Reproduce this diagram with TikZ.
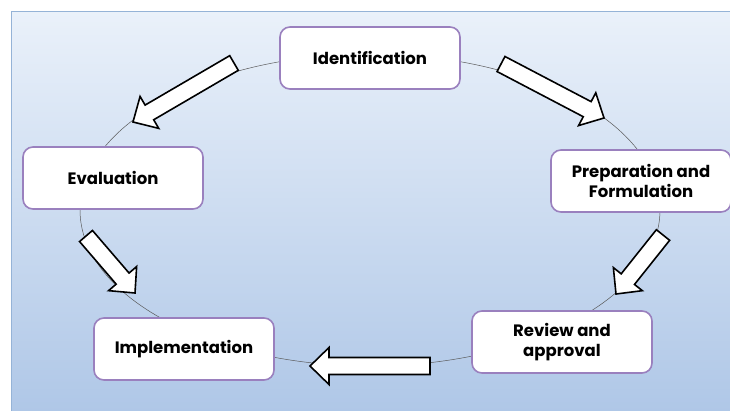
\documentclass[tikz,border=0pt]{standalone}
\usepackage{fontspec}
\setmainfont{Poppins}
\usetikzlibrary{calc}
\definecolor{panelTop}{HTML}{EAF1FA}
\definecolor{panelBot}{HTML}{AFC7E7}
\definecolor{panelEdge}{HTML}{95B3D7}
\definecolor{stageEdge}{HTML}{9A80BE}

% white block arrow from a tail coordinate to a tip coordinate
\newcommand\blockarrow[2]{%
  \draw[flow]
    ($(#1)!8.5pt!-90:(#2)$) --
    ($(#2)!19pt!(#1)!8.5pt!-90:(#2)$) --
    ($(#2)!19pt!(#1)!18.5pt!-90:(#2)$) --
    (#2) --
    ($(#2)!19pt!(#1)!18.5pt!90:(#2)$) --
    ($(#2)!19pt!(#1)!8.5pt!90:(#2)$) --
    ($(#1)!8.5pt!90:(#2)$) -- cycle;}

\begin{document}
\begin{tikzpicture}[x=1pt,y=-1pt,
  stage/.style={draw=stageEdge, line width=1.6pt, fill=white,
    rounded corners=10pt, minimum width=180pt, minimum height=62pt,
    align=center, inner sep=0pt,
    font=\bfseries\fontsize{16.5}{20}\selectfont},
  cycleline/.style={draw=black!65, line width=0.5pt},
  flow/.style={draw=black, line width=1.6pt, fill=white, line join=miter}]

\useasboundingbox (0,0) rectangle (730,410);

% background panel
\shade[top color=panelTop, bottom color=panelBot] (11,11) rectangle (732,412);
\draw[panelEdge, line width=1pt] (11,412) -- (11,11) -- (732,11);

% cycle line behind the stages
\draw[cycleline] (370,210) ellipse [x radius=290, y radius=156];

% stages
\node[stage] (ident) at (370,58)  {Identification};
\node[stage] (prep)  at (641,181) {Preparation and\\Formulation};
\node[stage] (rev)   at (562,342) {Review and\\approval};
\node[stage] (impl)  at (184,349) {Implementation};
\node[stage] (eval)  at (113,178) {Evaluation};

% arrow ends
\coordinate (a1t) at (234,63);  \coordinate (a1h) at (133,122);
\coordinate (a2t) at (501,64);  \coordinate (a2h) at (604,118);
\coordinate (a3t) at (663,235); \coordinate (a3h) at (616,294);
\coordinate (a4t) at (430,366); \coordinate (a4h) at (310,366);
\coordinate (a5t) at (86,236);  \coordinate (a5h) at (135,293);

\blockarrow{a1t}{a1h}
\blockarrow{a2t}{a2h}
\blockarrow{a3t}{a3h}
\blockarrow{a4t}{a4h}
\blockarrow{a5t}{a5h}
\end{tikzpicture}
\end{document}
